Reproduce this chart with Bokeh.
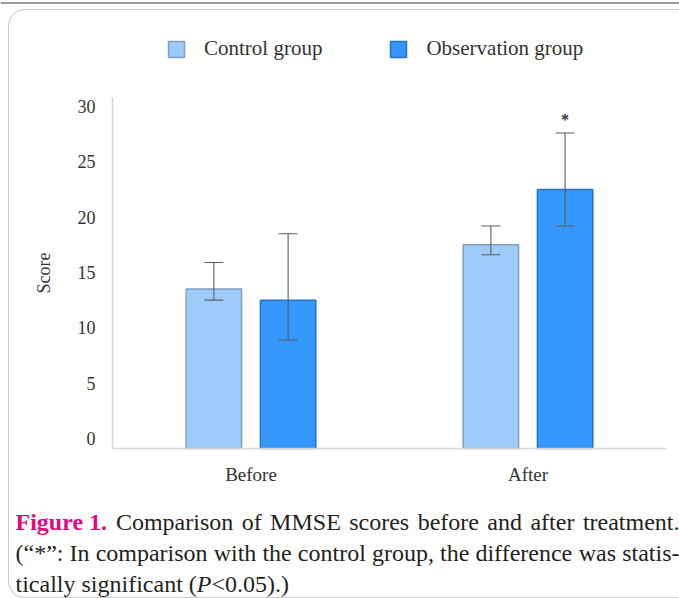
from bokeh.plotting import figure
from bokeh.models import (ColumnDataSource, Range1d, Whisker, TeeHead, LinearAxis,
                          Legend, LegendItem, Label, BoxAnnotation, FixedTicker)
from bokeh.transform import dodge
from bokeh.core.properties import value
from bokeh.embed import file_html
from bokeh.resources import INLINE

# ---------------- data ----------------
periods = ["Before", "After"]
control = [13.5, 17.5]
control_lo = [12.5, 16.6]
control_hi = [15.9, 19.2]
observation = [12.5, 22.5]
observation_lo = [8.9, 19.2]
observation_hi = [18.5, 27.6]
significance = ["", "*"]
y_ticks = [0, 5, 10, 15, 20, 25, 30]
series_names = ["Control group", "Observation group"]
y_label = "Score"

# ---------------- layout / style ----------------
W, H = 679, 598
PX_X0, PX_PER_X = 112, 277.0          # x = 0 at page x 112, one category = 277 px
Y_START, Y_END = -0.9, 30.8           # axis extent (bars start at the axis)
PX_YB, PX_YT = 448, 97                # page y of Y_START and Y_END
px_per_y = (PX_YB - PX_YT) / (Y_END - Y_START)
x_lo, x_hi = -PX_X0 / PX_PER_X, (W - PX_X0) / PX_PER_X
y_hi = Y_START + PX_YB / px_per_y
y_lo = Y_START - (H - PX_YB) / px_per_y

OFF = 0.134
BAR_W = 0.2
SERIF = "Liberation Serif"
C_FILL, C_LINE = "#9ecbfa", "#7f9fc4"
O_FILL, O_LINE = "#3497fd", "#2a72c4"
ERR = "#5f5f5f"
TXT = "#231f20"
AX_TXT = "#333333"
MAGENTA = "#e4087e"
CAP_PX = 24

xpos = [i + 0.5 for i in range(len(periods))]
src = ColumnDataSource(dict(x=xpos, period=periods, control=control, control_lo=control_lo,
                            control_hi=control_hi, observation=observation,
                            observation_lo=observation_lo, observation_hi=observation_hi,
                            sig=significance))

p = figure(width=W, height=H, x_range=Range1d(x_lo, x_hi), y_range=Range1d(y_lo, y_hi),
           output_backend="svg", toolbar_location=None, x_axis_type=None,
           y_axis_type=None, min_border=0, min_border_left=0, min_border_right=0,
           min_border_top=0, min_border_bottom=0)
p.outline_line_color = None
p.grid.visible = False

r1 = p.vbar(x=dodge("x", -OFF), top="control", bottom=Y_START, width=BAR_W, source=src,
            fill_color=C_FILL, line_color=C_LINE, line_width=1.5)
r2 = p.vbar(x=dodge("x", OFF), top="observation", bottom=Y_START, width=BAR_W, source=src,
            fill_color=O_FILL, line_color=O_LINE, line_width=1.5)

for off, lo, hi in ((-OFF, "control_lo", "control_hi"), (OFF, "observation_lo", "observation_hi")):
    p.add_layout(Whisker(base=dodge("x", off), lower=lo, upper=hi, source=src,
                         line_color=ERR, line_width=1.1, level="annotation",
                         upper_head=TeeHead(size=19, line_color=ERR, line_width=1.1),
                         lower_head=TeeHead(size=19, line_color=ERR, line_width=1.1)))

p.text(x=dodge("x", OFF), y="observation_hi", text="sig", source=src,
       text_font=value(SERIF), text_font_size="16px", text_font_style="bold",
       text_align="center", text_baseline="bottom", y_offset=-5, text_color="#333333")

# axes placed at fixed positions inside the frame
xaxis = LinearAxis(fixed_location=Y_START, bounds=(0, len(periods)),
                   ticker=FixedTicker(ticks=xpos),
                   major_label_overrides={x: lab for x, lab in zip(xpos, periods)})
yaxis = LinearAxis(fixed_location=0, bounds=(Y_START, Y_END),
                   ticker=FixedTicker(ticks=y_ticks), axis_label=y_label)
for ax in (xaxis, yaxis):
    ax.axis_line_color = "#d6d6d6"
    ax.axis_line_width = 1.5
    ax.major_tick_line_color = None
    ax.minor_tick_line_color = None
    ax.major_label_text_font = SERIF
    ax.major_label_text_color = AX_TXT
xaxis.major_label_text_font_size = "19px"
xaxis.major_label_standoff = 9
yaxis.major_label_text_font_size = "18px"
yaxis.major_label_standoff = 11
yaxis.axis_label_text_font = SERIF
yaxis.axis_label_text_font_size = "18px"
yaxis.axis_label_text_font_style = "normal"
yaxis.axis_label_text_color = AX_TXT
yaxis.axis_label_standoff = 21
p.add_layout(xaxis, "below")
p.add_layout(yaxis, "left")

# legend (screen position from the bottom-left of the canvas)
legend = Legend(items=[LegendItem(label=series_names[0], renderers=[r1]),
                       LegendItem(label=series_names[1], renderers=[r2])],
                orientation="horizontal", location=(166, H - 61), padding=0, margin=0,
                spacing=66, label_standoff=18, glyph_width=20, glyph_height=20,
                label_height=20, label_text_font=SERIF, label_text_font_size="21px",
                label_text_color=AX_TXT, border_line_color=None,
                background_fill_alpha=0)
p.add_layout(legend)

# rounded figure frame and the grey rule at the very top
p.add_layout(BoxAnnotation(left=8, right=W + 40, top=H - 9, bottom=H - 597,
                           left_units="screen", right_units="screen",
                           top_units="screen", bottom_units="screen",
                           fill_alpha=0, line_color="#4a4a4a", line_width=1,
                           border_radius=16))
p.add_layout(BoxAnnotation(left=0, right=W, top=H - 1.5, bottom=H - 3.5,
                           left_units="screen", right_units="screen",
                           top_units="screen", bottom_units="screen",
                           fill_color="#9a9a9a", fill_alpha=1, line_color=None))

# ---------------- caption (justified like the journal text) ----------------
# Times-compatible advance widths (1/1000 em) used to lay out the words
ROMAN = {" ": 250, "(": 333, ")": 333, "*": 500, ":": 278, ".": 250, ",": 250, "-": 333,
         "<": 564, "\u201c": 444, "\u201d": 444, "A": 722, "C": 667, "E": 611, "F": 556,
         "I": 333, "M": 889, "P": 556, "S": 556, "a": 444, "b": 500, "c": 444, "d": 500,
         "e": 444, "f": 333, "g": 500, "h": 500, "i": 278, "l": 278, "m": 778, "n": 500,
         "o": 500, "p": 500, "r": 333, "s": 389, "t": 278, "u": 500, "v": 500, "w": 722,
         "y": 500}
BOLD = {"F": 611, "i": 278, "g": 500, "u": 556, "r": 444, "e": 444, " ": 250, ".": 250}
ITALIC = {"P": 611}


def text_width(s, style):
    table = BOLD if style == "bold" else ITALIC if style == "italic" else ROMAN
    return sum(table.get(ch, ROMAN.get(ch, 500 if ch.isdigit() else 500)) for ch in s) * CAP_PX / 1000


CAP_X0, CAP_X1 = 15, 678
caption = [
    (521, True, [[("Figure 1.", "bold", MAGENTA)], [("Comparison", "normal", TXT)],
                 [("of", "normal", TXT)], [("MMSE", "normal", TXT)], [("scores", "normal", TXT)],
                 [("before", "normal", TXT)], [("and", "normal", TXT)], [("after", "normal", TXT)],
                 [("treatment.", "normal", TXT)]]),
    (552, True, [[("(\u201c*\u201d:", "normal", TXT)], [("In", "normal", TXT)],
                 [("comparison", "normal", TXT)], [("with", "normal", TXT)], [("the", "normal", TXT)],
                 [("control", "normal", TXT)], [("group,", "normal", TXT)], [("the", "normal", TXT)],
                 [("difference", "normal", TXT)], [("was", "normal", TXT)],
                 [("statis-", "normal", TXT)]]),
    (583, False, [[("tically", "normal", TXT)], [("significant", "normal", TXT)],
                  [("(", "normal", TXT), ("P", "italic", TXT), ("<0.05).)", "normal", TXT)]]),
]
space = ROMAN[" "] * CAP_PX / 1000
for base, justify, words in caption:
    widths = [sum(text_width(t, s) for t, s, _ in w) for w in words]
    gap = (CAP_X1 + 1 - CAP_X0 - sum(widths)) / (len(words) - 1) if justify else space
    x = CAP_X0
    for k, (w, wd) in enumerate(zip(words, widths)):
        last = justify and k == len(words) - 1
        if last:
            t, s, col = w[0]
            p.add_layout(Label(x=CAP_X1 + 1, y=H - base, x_units="screen", y_units="screen",
                               text=t, text_font=SERIF, text_font_size=f"{CAP_PX}px",
                               text_font_style=s, text_color=col,
                               text_baseline="alphabetic", text_align="right"))
            break
        sx = x
        for t, s, col in w:
            p.add_layout(Label(x=sx, y=H - base, x_units="screen", y_units="screen",
                               text=t, text_font=SERIF, text_font_size=f"{CAP_PX}px",
                               text_font_style=s, text_color=col,
                               text_baseline="alphabetic", text_align="left"))
            sx += text_width(t, s)
        x += wd + gap

open("out.html", "w").write(file_html(p, INLINE))
